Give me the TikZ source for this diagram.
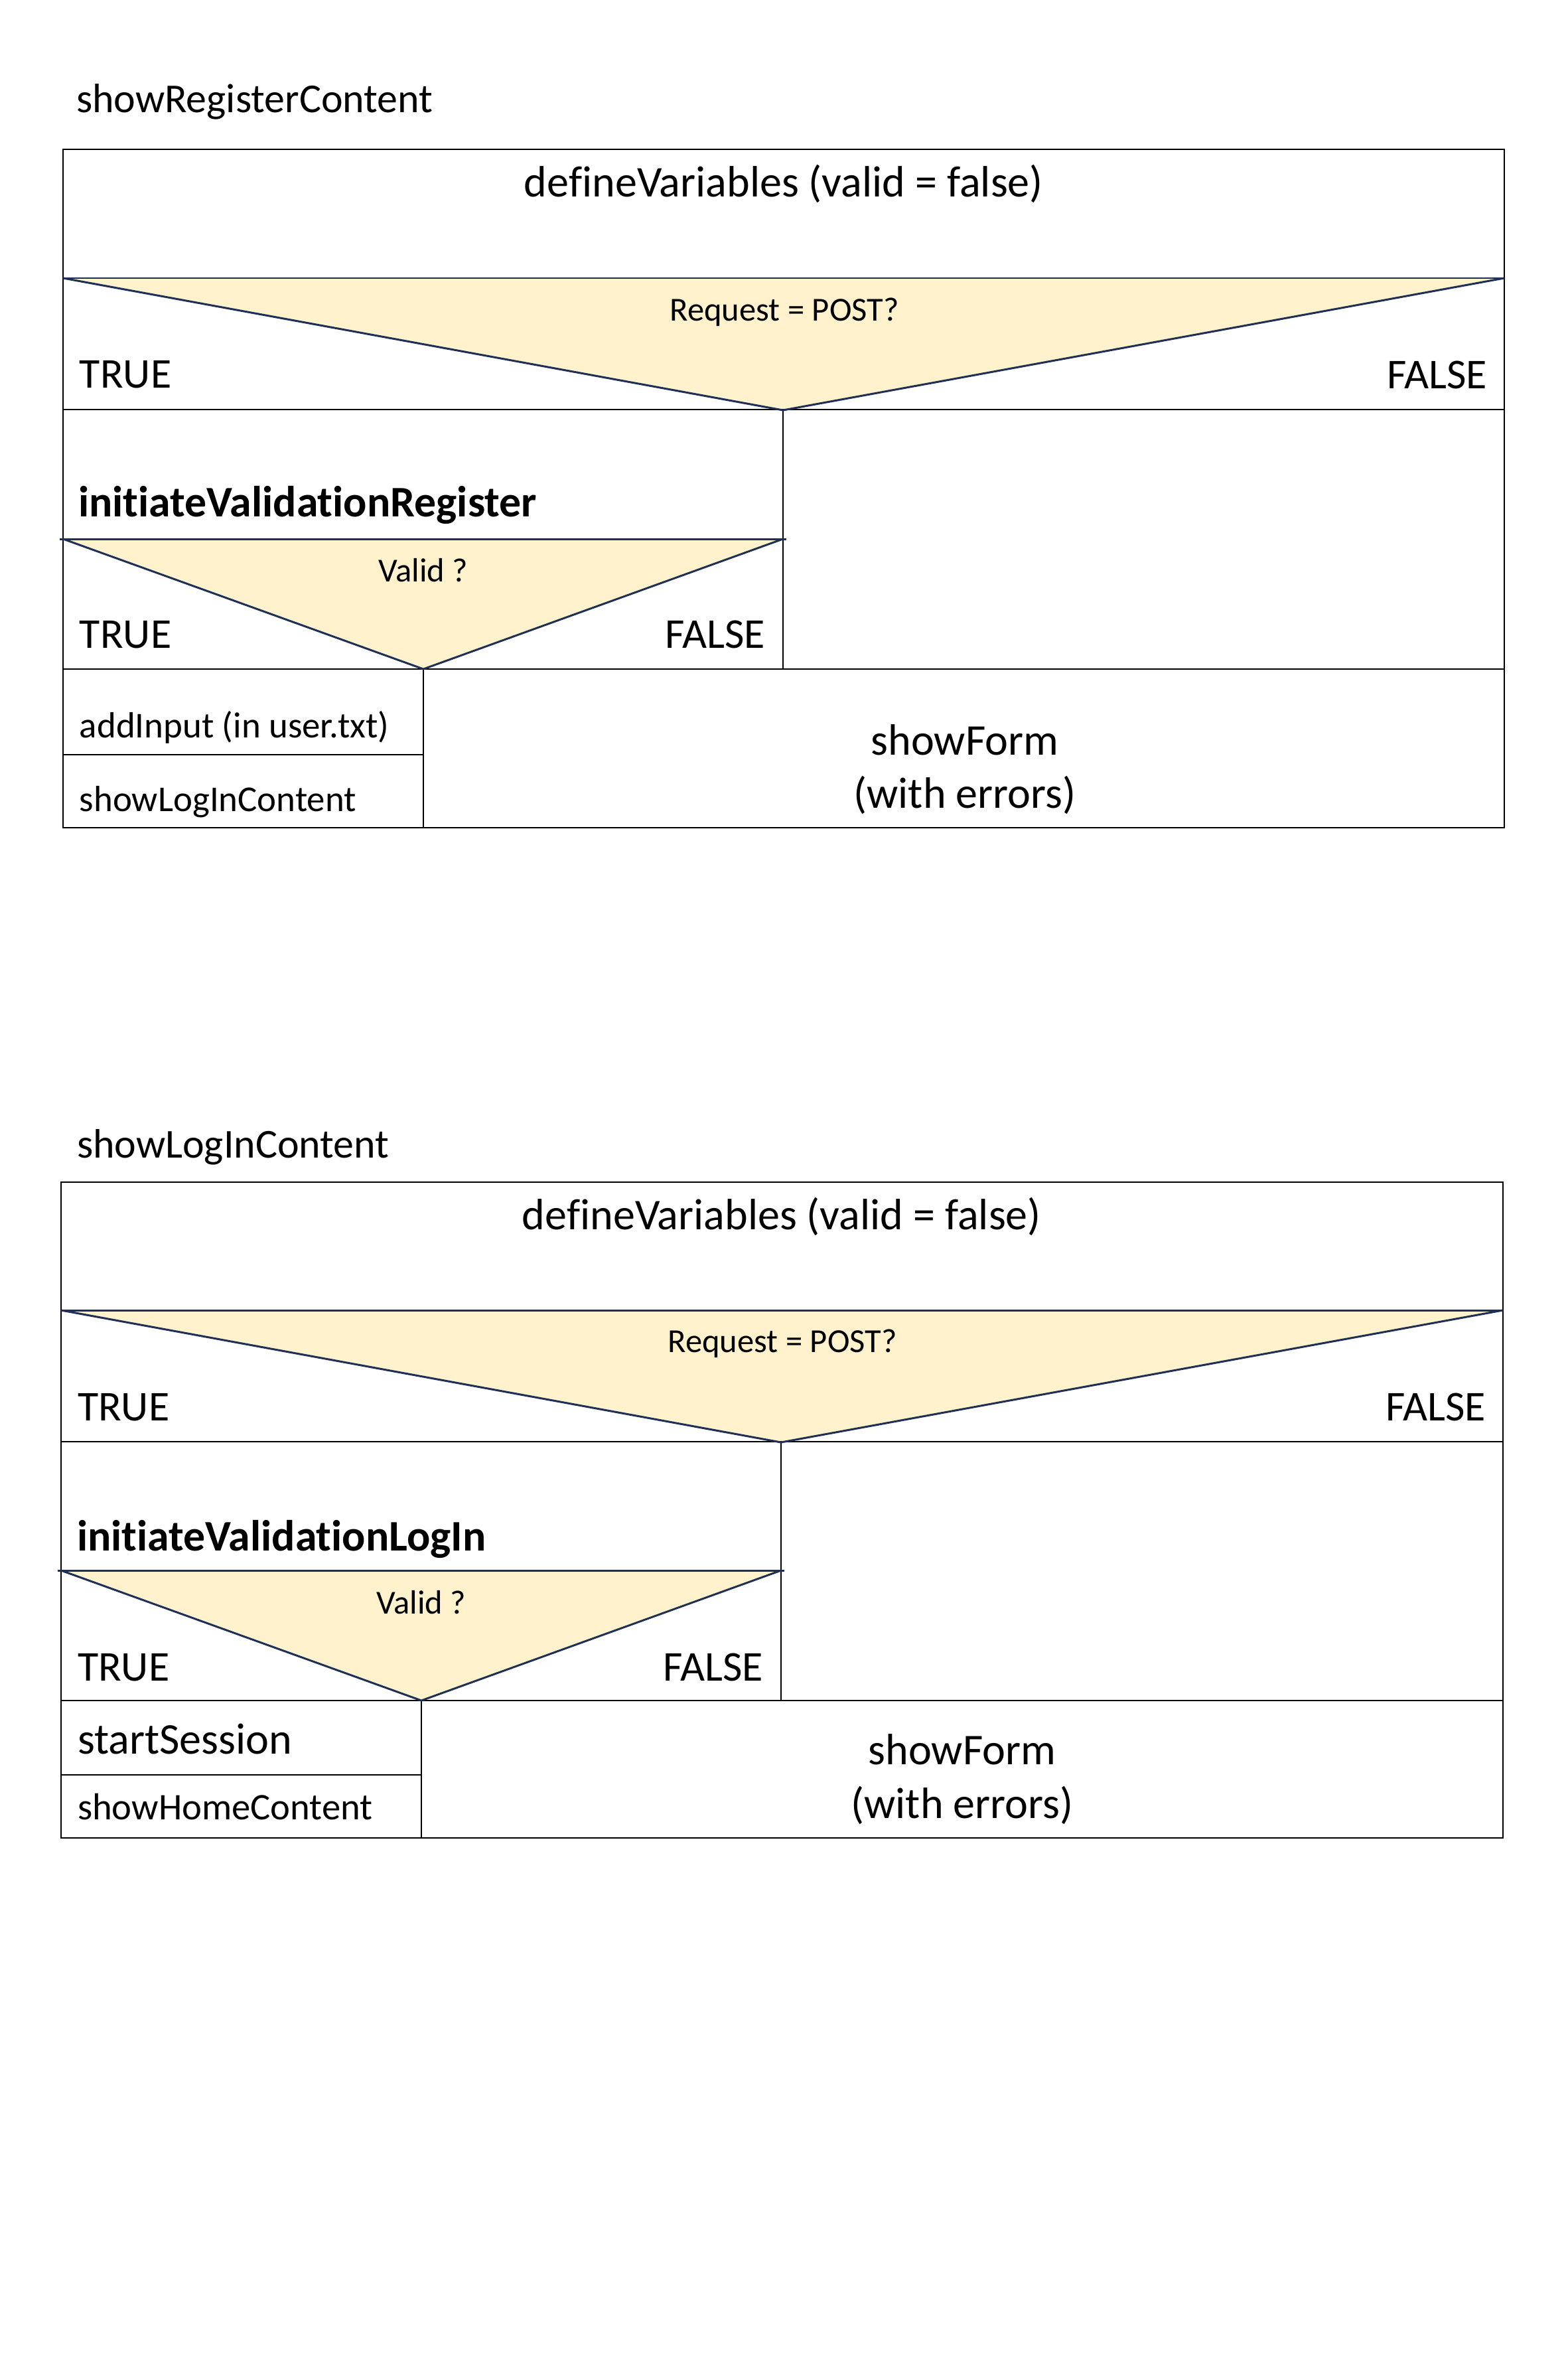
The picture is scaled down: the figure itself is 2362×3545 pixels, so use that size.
\documentclass[tikz,border=0pt]{standalone}
\usepackage{fontspec}
\setmainfont[Ligatures=NoCommon]{Carlito}
\definecolor{decfill}{HTML}{FFF2CC}
\definecolor{decline}{HTML}{1F3056}

\begin{document}
\begin{tikzpicture}[x=0.01cm,y=-0.01cm,
  frame/.style={draw=black, line width=0.6pt},
  decedge/.style={draw=decline, line width=0.85pt, line join=miter},
  txt/.style={inner sep=0pt, outer sep=0pt, text=black},
  ftitle/.style={txt, font=\fontsize{17.6}{21}\selectfont},
  fbig/.style={txt, font=\fontsize{18.8}{22}\selectfont},
  fcase/.style={txt, font=\fontsize{18.2}{22}\selectfont},
  fbold/.style={txt, font=\bfseries\fontsize{18.7}{22}\selectfont},
  fcond/.style={txt, font=\fontsize{14.4}{17}\selectfont},
  fstep/.style={txt, font=\fontsize{15.6}{19}\selectfont},
]
\useasboundingbox (0,0) rectangle (2362,3545);

% ---------------- showRegisterContent ----------------
\coordinate (rTL) at (95,225);
\coordinate (rBR) at (2267,1247);
\coordinate (rQl) at (95,419);
\coordinate (rQr) at (2267,419);
\coordinate (rQv) at (1180,618);
\coordinate (rVl) at (95,812);
\coordinate (rVr) at (1180,812);
\coordinate (rVv) at (638,1008);

\fill[decfill] (rQl) -- (rQr) -- (rQv) -- cycle;
\fill[decfill] (rVl) -- (rVr) -- (rVv) -- cycle;

\draw[frame] (rTL) rectangle (rBR);
\draw[frame] (95,617) -- (2267,617);
\draw[frame] (rQv) -- (1180,1008);
\draw[frame] (95,1008) -- (2267,1008);
\draw[frame] (rVv) -- (638,1247);
\draw[frame] (95,1137) -- (638,1137);

\draw[decedge] (rQl) -- (rQr);
\draw[decedge] (rQl) -- (rQv) -- (rQr);
\draw[decedge] (90,812) -- (1185,812);
\draw[decedge] (rVl) -- (rVv) -- (rVr);

\node[ftitle, anchor=base west] (rTitle) at (115,169) {showRegisterContent};
\node[fbig, anchor=base] (rDef) at (1181,296) {defineVariables (valid = false)};
\node[fcond, anchor=base] (rReq) at (1182,483) {Request = POST?};
\node[fcase, anchor=base west] (rT1) at (120,584) {TRUE};
\node[fcase, anchor=base east] (rF1) at (2241,585) {FALSE};
\node[fbold, anchor=base west] (rInit) at (118,778) {initiateValidationRegister};
\node[fcond, anchor=base] (rValid) at (638,876) {Valid ?};
\node[fcase, anchor=base west] (rT2) at (120,976) {TRUE};
\node[fcase, anchor=base east] (rF2) at (1153,976) {FALSE};
\node[fstep, anchor=base west] (rAdd) at (120,1111) {addInput (in user.txt)};
\node[fstep, anchor=base west] (rLog) at (120,1222) {showLogInContent};
\node[fbig, anchor=base] (rForm) at (1454,1137) {showForm};
\node[fbig, anchor=base] (rErr) at (1454,1217) {(with errors)};

% ---------------- showLogInContent ----------------
\coordinate (lTL) at (92,1781);
\coordinate (lBR) at (2265,2769);
\coordinate (lQl) at (92,1974);
\coordinate (lQr) at (2265,1974);
\coordinate (lQv) at (1177,2173);
\coordinate (lVl) at (92,2366);
\coordinate (lVr) at (1177,2366);
\coordinate (lVv) at (635,2562);

\fill[decfill] (lQl) -- (lQr) -- (lQv) -- cycle;
\fill[decfill] (lVl) -- (lVr) -- (lVv) -- cycle;

\draw[frame] (lTL) rectangle (lBR);
\draw[frame] (92,2172) -- (2265,2172);
\draw[frame] (lQv) -- (1177,2562);
\draw[frame] (92,2562) -- (2265,2562);
\draw[frame] (lVv) -- (635,2769);
\draw[frame] (92,2674) -- (635,2674);

\draw[decedge] (lQl) -- (lQr);
\draw[decedge] (lQl) -- (lQv) -- (lQr);
\draw[decedge] (87,2366) -- (1182,2366);
\draw[decedge] (lVl) -- (lVv) -- (lVr);

\node[ftitle, anchor=base west] (lTitle) at (116,1744) {showLogInContent};
\node[fbig, anchor=base] (lDef) at (1178,1852) {defineVariables (valid = false)};
\node[fcond, anchor=base] (lReq) at (1179,2037) {Request = POST?};
\node[fcase, anchor=base west] (lT1) at (117,2140) {TRUE};
\node[fcase, anchor=base east] (lF1) at (2239,2140) {FALSE};
\node[fbold, anchor=base west] (lInit) at (116,2336) {initiateValidationLogIn};
\node[fcond, anchor=base] (lValid) at (635,2431) {Valid ?};
\node[fcase, anchor=base west] (lT2) at (117,2532) {TRUE};
\node[fcase, anchor=base east] (lF2) at (1150,2532) {FALSE};
\node[fbig, anchor=base west] (lSess) at (117,2642) {startSession};
\node[fstep, anchor=base west, font=\fontsize{16.1}{19}\selectfont] (lHome) at (117,2741) {showHomeContent};
\node[fbig, anchor=base] (lForm) at (1450,2658) {showForm};
\node[fbig, anchor=base] (lErr) at (1450,2739) {(with errors)};
\end{tikzpicture}
\end{document}
